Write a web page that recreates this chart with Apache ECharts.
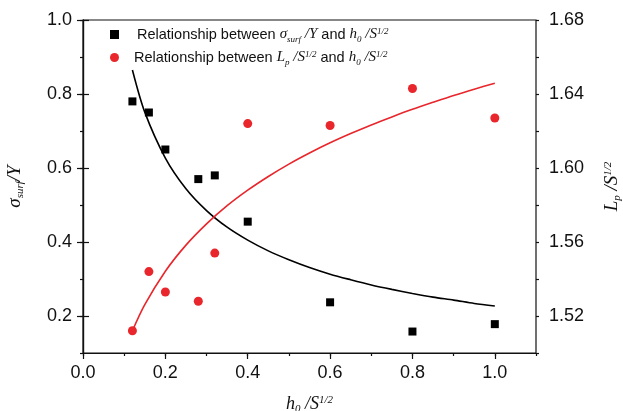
<!DOCTYPE html>
<html>
<head>
<meta charset="utf-8">
<script src="https://cdn.jsdelivr.net/npm/echarts@6/dist/echarts.min.js"></script>
<style>
  html, body { margin: 0; padding: 0; background: #fff; }
  #chart { width: 623px; height: 411px; }
</style>
</head>
<body>
<div id="chart"></div>
<script>
// Measured samples: normalised film thickness vs. stress ratio and perimeter ratio
const hRatio = [0.12, 0.16, 0.2, 0.28, 0.32, 0.4, 0.6, 0.8, 1.0];
const stressRatio = [0.78, 0.75, 0.65, 0.57, 0.58, 0.455, 0.237, 0.158, 0.178];
const lengthRatio = [1.512, 1.544, 1.533, 1.528, 1.554, 1.624, 1.623, 1.643, 1.627];

// Fitted trend curves
const fitX = [0.12, 0.15, 0.2, 0.25, 0.3, 0.35, 0.4, 0.45, 0.5, 0.55, 0.6, 0.65, 0.7, 0.75, 0.8, 0.85, 0.9, 0.95, 1.0];
const stressFit = [0.865, 0.751, 0.627, 0.544, 0.485, 0.440, 0.405, 0.376, 0.352, 0.331, 0.313, 0.298, 0.284, 0.272, 0.261, 0.251, 0.243, 0.234, 0.227];
const lengthFit = [1.5120, 1.5261, 1.5442, 1.5583, 1.5698, 1.5796, 1.5880, 1.5954, 1.6021, 1.6081, 1.6136, 1.6186, 1.6233, 1.6276, 1.6317, 1.6355, 1.6392, 1.6426, 1.6458];

// Axis ticks
const xMajor = [0, 0.2, 0.4, 0.6, 0.8, 1.0];
const leftMajor = [0.2, 0.4, 0.6, 0.8, 1.0];
const rightMajor = [1.52, 1.56, 1.60, 1.64, 1.68];

const SANS = 'Liberation Sans';
const SERIF = 'Liberation Serif';
const INK = '#111';
const RED = '#e8262b';

const pairs = (xs, ys) => xs.map((x, i) => [x, ys[i]]);

const mathRich = (size, subSize, subPad, supPad) => ({
  m: { fontFamily: SERIF, fontStyle: 'italic', fontSize: size, color: INK },
  sub: { fontFamily: SERIF, fontStyle: 'italic', fontSize: subSize, color: INK, padding: [subPad, 0, 0, 0] },
  sup: { fontFamily: SERIF, fontStyle: 'italic', fontSize: subSize, color: INK, padding: [0, 0, supPad, 0] }
});

const legendRich = Object.assign(mathRich(15, 9, 10, 6), {
  t1: { fontFamily: SANS, fontSize: 14.5, color: INK, padding: [0, 0, 0, 13] },
  t2: { fontFamily: SANS, fontSize: 14.5, color: INK, padding: [0, 0, 0, 10] },
  t: { fontFamily: SANS, fontSize: 14.5, color: INK }
});

const NAME_STRESS = 'stress';
const NAME_LENGTH = 'length';
const legendText = {
  [NAME_STRESS]: '{t1|Relationship between }{m|σ}{sub|surf}{m| /Y}{t| and }{m|h}{sub|0}{m| /S}{sup|1/2}',
  [NAME_LENGTH]: '{t2|Relationship between }{m|L}{sub|p}{m| /S}{sup|1/2}{t| and }{m|h}{sub|0}{m| /S}{sup|1/2}'
};

const tickLabel = { fontFamily: SANS, fontSize: 18, color: INK };
const axisLine = { show: true, lineStyle: { color: INK, width: 1.2 } };

const chart = echarts.init(document.getElementById('chart'), null, { renderer: 'canvas' });

chart.setOption({
  animation: false,
  backgroundColor: '#fff',
  grid: {
    left: 83, right: 87, top: 20, bottom: 58,
    containLabel: false,
    outerBoundsMode: 'none',
    show: true, borderColor: INK, borderWidth: 1.2, backgroundColor: 'transparent'
  },
  legend: {
    orient: 'vertical',
    left: 105,
    top: 22,
    itemGap: 6,
    itemWidth: 9,
    itemHeight: 9,
    data: [
      { name: NAME_STRESS, icon: 'rect', itemStyle: { color: '#000', opacity: 1 } },
      { name: NAME_LENGTH, icon: 'circle', itemStyle: { color: RED, opacity: 1 } }
    ],
    formatter: name => legendText[name],
    textStyle: { rich: legendRich }
  },
  xAxis: [
    {
      type: 'value', min: 0, max: 1.1, interval: 0.2,
      axisLine: axisLine,
      axisTick: { show: true, inside: false, length: 6, customValues: xMajor, lineStyle: { color: INK, width: 1.2 } },
      axisLabel: Object.assign({ margin: 11, customValues: xMajor, formatter: v => v.toFixed(1) }, tickLabel),
      splitLine: { show: false },
      name: '{m|h}{sub|0}{m| /S}{sup|1/2}',
      nameLocation: 'middle',
      nameGap: 40,
      nameTextStyle: { rich: mathRich(18, 11, 11, 7) }
    },
    {
      type: 'value', min: 0, max: 1.1, interval: 0.1, position: 'bottom',
      axisLine: { show: false },
      axisTick: { show: true, length: 3, lineStyle: { color: INK, width: 1.2 } },
      axisLabel: { show: false },
      splitLine: { show: false }
    }
  ],
  yAxis: [
    {
      type: 'value', min: 0.1, max: 1.0, position: 'left',
      axisLine: axisLine,
      axisTick: { show: true, length: 6, customValues: leftMajor, lineStyle: { color: INK, width: 1.2 } },
      axisLabel: Object.assign({ margin: 11, customValues: leftMajor, formatter: v => v.toFixed(1) }, tickLabel),
      splitLine: { show: false },
      name: '{m|σ}{sub|surf}{m|/Y}',
      nameLocation: 'middle',
      nameRotate: 90,
      nameGap: 57,
      nameTextStyle: { rich: mathRich(19, 11, 11, 7) }
    },
    {
      type: 'value', min: 1.50, max: 1.68, position: 'right',
      axisLine: axisLine,
      axisTick: { show: true, length: 6, customValues: rightMajor, lineStyle: { color: INK, width: 1.2 } },
      axisLabel: Object.assign({ margin: 13, customValues: rightMajor, formatter: v => v.toFixed(2) }, tickLabel),
      splitLine: { show: false },
      name: '{m|L}{sub|p}{m| /S}{sup|1/2}',
      nameLocation: 'middle',
      nameRotate: 90,
      nameGap: 65,
      nameTextStyle: { rich: mathRich(19, 11, 11, 7) }
    },
    {
      type: 'value', min: 0.1, max: 1.0, interval: 0.1, position: 'left',
      axisLine: { show: false },
      axisTick: { show: true, length: 3, lineStyle: { color: INK, width: 1.2 } },
      axisLabel: { show: false },
      splitLine: { show: false }
    },
    {
      type: 'value', min: 1.50, max: 1.68, interval: 0.02, position: 'right',
      axisLine: { show: false },
      axisTick: { show: true, length: 3, lineStyle: { color: INK, width: 1.2 } },
      axisLabel: { show: false },
      splitLine: { show: false }
    }
  ],
  series: [
    {
      name: 'stressFit', type: 'line', yAxisIndex: 0,
      data: pairs(fitX, stressFit),
      smooth: 0.3, showSymbol: false, symbol: 'none',
      lineStyle: { color: '#000', width: 1.6 }, z: 2
    },
    {
      name: 'lengthFit', type: 'line', yAxisIndex: 1,
      data: pairs(fitX, lengthFit),
      smooth: 0.3, showSymbol: false, symbol: 'none',
      lineStyle: { color: RED, width: 1.6 }, z: 2
    },
    {
      name: NAME_STRESS, type: 'scatter', yAxisIndex: 0,
      data: pairs(hRatio, stressRatio),
      symbol: 'rect', symbolSize: 8,
      itemStyle: { color: '#000', opacity: 1 }, z: 3
    },
    {
      name: NAME_LENGTH, type: 'scatter', yAxisIndex: 1,
      data: pairs(hRatio, lengthRatio),
      symbol: 'circle', symbolSize: 9,
      itemStyle: { color: RED, opacity: 1 }, z: 3
    }
  ]
});
</script>
</body>
</html>
